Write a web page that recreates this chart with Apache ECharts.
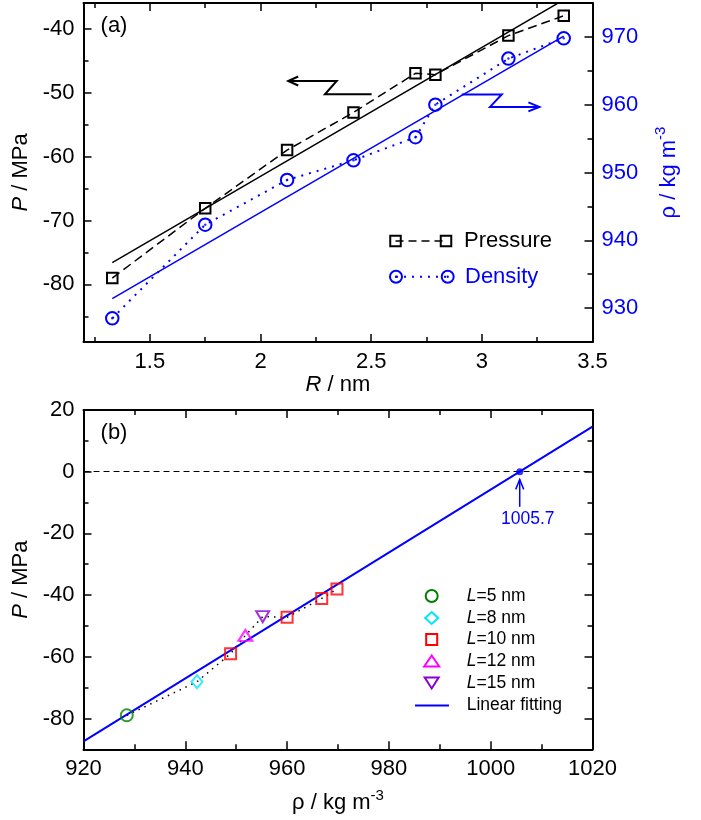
<!DOCTYPE html>
<html><head><meta charset="utf-8">
<script src="https://cdn.jsdelivr.net/npm/echarts@6/dist/echarts.min.js"></script>
<style>html,body{margin:0;padding:0;background:#fff}#c{width:701px;height:820px}</style>
</head><body><div id="c"></div>
<script>
// ---------------- data ----------------
const radius    = [1.33, 1.75, 2.12, 2.42, 2.70, 2.79, 3.12, 3.37];            // R / nm
const pressure  = [-79.0, -68.1, -59.0, -53.1, -47.0, -47.2, -41.1, -38.0];   // P / MPa
const density   = [928.5, 942.3, 948.9, 951.8, 955.2, 960.0, 966.8, 969.8];   // rho / kg m-3
const boxLength = [5, 8, 10, 12, 15, 10, 10, 10];                             // L / nm
const groups    = [5, 8, 10, 12, 15];

const fitRadiusA   = [1.33, 3.37];
const fitPressureA = [-76.6, -35.5];
const fitDensityA  = [931.4, 970.1];
const fitRhoB      = [920, 1020];
const fitPressureB = [-87.4, 14.6];
const interceptRho = 1005.7;

// tick values
const xTicksA   = [1.5, 2, 2.5, 3, 3.5];
const xMinorA   = [1.25, 1.75, 2.25, 2.75, 3.25];
const yTicksA   = [-80, -70, -60, -50, -40];
const yMinorA   = [-85, -75, -65, -55, -45];
const rhoTicksA = [930, 940, 950, 960, 970];
const rhoMinorA = [935, 945, 955, 965];
const xTicksB   = [920, 940, 960, 980, 1000, 1020];
const xMinorB   = [930, 950, 970, 990, 1010];
const yTicksB   = [-80, -60, -40, -20, 0, 20];
const yMinorB   = [-70, -50, -30, -10, 10];

// annotation arrows in data coordinates (tail ... tip)
const arrowP_R     = [2.502, 2.291, 2.344, 2.125];
const arrowP_P     = [-50.28, -50.28, -48.2, -48.2];
const arrowRho_R   = [2.909, 3.09, 3.037, 3.26];
const arrowRho_rho = [961.5, 961.5, 959.67, 959.67];
const arrowB_P     = [-11.4, -2.5];

// ---------------- styles ----------------
const FONT = 'Liberation Sans';
const BLUE = '#0000FF';
const groupStyle = {
  5:  {symbol: 'circle',   size: 12,       color: '#008000', rotate: 0},
  8:  {symbol: 'diamond',  size: [11, 13], color: '#00E5FF', rotate: 0},
  10: {symbol: 'rect',     size: 11,       color: '#FF0000', rotate: 0},
  12: {symbol: 'triangle', size: [14, 11], color: '#FF00FF', rotate: 0},
  15: {symbol: 'triangle', size: [13, 11], color: '#8A00D0', rotate: 180}
};
const pairs = (xs, ys) => xs.map((x, i) => [x, ys[i]]);

function ax(o) {
  const a = {
    type: 'value', gridIndex: o.grid, position: o.pos, min: o.min, max: o.max,
    axisLine: {show: !!o.line, onZero: false, lineStyle: {color: '#000', width: 2}},
    axisTick: {show: true, inside: true, length: o.minor ? 5 : 8, customValues: o.ticks,
               lineStyle: {color: '#000', width: 1.5}},
    axisLabel: o.labels ? {show: true, customValues: o.labels, margin: 9, fontSize: 22,
               fontFamily: FONT, color: o.labelColor || '#000', showMinLabel: true, showMaxLabel: true,
               formatter: v => String(v)}
               : {show: false},
    splitLine: {show: false}
  };
  if (o.name) {
    a.name = o.name; a.nameLocation = 'middle'; a.nameGap = o.nameGap;
    if (o.nameRotate !== undefined) a.nameRotate = o.nameRotate;
    a.nameTextStyle = Object.assign({fontSize: 22, fontFamily: FONT, color: o.nameColor || '#000'}, o.nameStyle || {});
  }
  return a;
}
const italicRich = {i: {fontStyle: 'italic', fontSize: 22, fontFamily: FONT}};

const xAxis = [
  ax({grid: 0, pos: 'bottom', min: 1.2, max: 3.5, line: true, ticks: [1.5, 2, 2.5, 3], labels: xTicksA,
      name: '{i|R} / nm', nameGap: 32, nameStyle: {rich: italicRich}}),
  ax({grid: 0, pos: 'bottom', min: 1.2, max: 3.5, minor: true, ticks: xMinorA}),
  ax({grid: 0, pos: 'top', min: 1.2, max: 3.5, line: true, ticks: [1.5, 2, 2.5, 3]}),
  ax({grid: 0, pos: 'top', min: 1.2, max: 3.5, minor: true, ticks: xMinorA}),
  ax({grid: 1, pos: 'bottom', min: 920, max: 1020, line: true, ticks: [940, 960, 980, 1000], labels: xTicksB,
      name: '{t|ρ / kg m}{s|-3}', nameGap: 39,
      nameStyle: {rich: {t: {fontSize: 22, fontFamily: FONT, lineHeight: 30},
                         s: {fontSize: 15, fontFamily: FONT, lineHeight: 16, verticalAlign: 'top'}}}}),
  ax({grid: 1, pos: 'bottom', min: 920, max: 1020, minor: true, ticks: xMinorB}),
  ax({grid: 1, pos: 'top', min: 920, max: 1020, line: true, ticks: [940, 960, 980, 1000]}),
  ax({grid: 1, pos: 'top', min: 920, max: 1020, minor: true, ticks: xMinorB})
];
const yAxis = [
  ax({grid: 0, pos: 'left', min: -89, max: -36, line: true, ticks: yTicksA, labels: yTicksA,
      name: '{i|P} / MPa', nameGap: 41, nameRotate: 90, nameStyle: {rich: italicRich}}),
  ax({grid: 0, pos: 'left', min: -89, max: -36, minor: true, ticks: yMinorA}),
  ax({grid: 0, pos: 'right', min: 925, max: 975, line: true, ticks: rhoTicksA, labels: rhoTicksA, labelColor: BLUE,
      name: '{t|ρ / kg m}{s|-3}', nameGap: 61, nameRotate: 90, nameColor: BLUE,
      nameStyle: {rich: {t: {fontSize: 22, fontFamily: FONT, lineHeight: 30, color: BLUE},
                         s: {fontSize: 15, fontFamily: FONT, lineHeight: 16, verticalAlign: 'top', color: BLUE}}}}),
  ax({grid: 0, pos: 'right', min: 925, max: 975, minor: true, ticks: rhoMinorA}),
  ax({grid: 1, pos: 'left', min: -90, max: 20, line: true, ticks: [-80, -60, -40, -20, 0], labels: yTicksB,
      name: '{i|P} / MPa', nameGap: 41, nameRotate: 90, nameStyle: {rich: italicRich}}),
  ax({grid: 1, pos: 'left', min: -90, max: 20, minor: true, ticks: yMinorB}),
  ax({grid: 1, pos: 'right', min: -90, max: 20, line: true, ticks: [-80, -60, -40, -20, 0]}),
  ax({grid: 1, pos: 'right', min: -90, max: 20, minor: true, ticks: yMinorB})
];

const series = [
  // ---- panel (a) ----
  {type: 'line', xAxisIndex: 0, yAxisIndex: 0, data: pairs(fitRadiusA, fitPressureA), symbol: 'none',
   lineStyle: {color: '#000', width: 1.5}, z: 2},
  {type: 'line', xAxisIndex: 0, yAxisIndex: 2, data: pairs(fitRadiusA, fitDensityA), symbol: 'none',
   lineStyle: {color: BLUE, width: 1.5}, z: 2},
  {type: 'line', name: 'Pressure', xAxisIndex: 0, yAxisIndex: 0, data: pairs(radius, pressure),
   symbol: 'rect', symbolSize: 10.5, lineStyle: {color: '#000', width: 1.5, type: [9, 5]},
   itemStyle: {color: 'transparent', borderColor: '#000', borderWidth: 2}, z: 3},
  {type: 'line', name: 'Density', xAxisIndex: 0, yAxisIndex: 2, data: pairs(radius, density),
   symbol: 'circle', symbolSize: 12.5, lineStyle: {color: BLUE, width: 2, type: [2, 6]},
   itemStyle: {color: 'transparent', borderColor: BLUE, borderWidth: 2}, z: 3},
  {type: 'scatter', xAxisIndex: 0, yAxisIndex: 2, data: pairs(radius, density), symbolSize: 2.5,
   itemStyle: {color: BLUE}, z: 4},
  // ---- panel (b) ----
  {type: 'line', xAxisIndex: 4, yAxisIndex: 4, data: pairs(density, pressure), symbol: 'none',
   lineStyle: {color: '#000', width: 1.5, type: [1.5, 5]}, z: 2},
  {type: 'line', name: 'Linear fitting', xAxisIndex: 4, yAxisIndex: 4, data: pairs(fitRhoB, fitPressureB),
   symbol: 'none', lineStyle: {color: BLUE, width: 2}, itemStyle: {color: BLUE}, z: 3,
   markLine: {silent: true, symbol: 'none', label: {show: false},
              lineStyle: {color: '#000', width: 1, type: [6, 4]}, data: [{yAxis: 0}]}},
  {type: 'scatter', xAxisIndex: 4, yAxisIndex: 4, data: [[interceptRho, 0]], symbolSize: 7,
   itemStyle: {color: BLUE}, z: 5}
];
groups.forEach(L => {
  const st = groupStyle[L];
  const idx = boxLength.map((v, i) => v === L ? i : -1).filter(i => i >= 0);
  series.push({
    type: 'scatter', name: 'L=' + L + ' nm', xAxisIndex: 4, yAxisIndex: 4,
    data: idx.map(i => [density[i], pressure[i]]),
    symbol: st.symbol, symbolSize: st.size, symbolRotate: st.rotate,
    itemStyle: {color: 'transparent', borderColor: st.color, borderWidth: 2}, z: 4
  });
});

const option = {
  animation: false,
  backgroundColor: '#fff',
  textStyle: {fontFamily: FONT},
  grid: [
    {left: 83.5, top: 3, width: 509, height: 339, outerBoundsMode: 'none'},
    {left: 83.5, top: 410, width: 509, height: 339.3, outerBoundsMode: 'none'}
  ],
  xAxis, yAxis, series
};

const chart = echarts.init(document.getElementById('c'));
chart.setOption(option);

// ---------------- annotations & legends ----------------
const toA = (x, y) => chart.convertToPixel({xAxisIndex: 0, yAxisIndex: 0}, [x, y]);
const toRho = (x, y) => chart.convertToPixel({xAxisIndex: 0, yAxisIndex: 2}, [x, y]);
const toB = (x, y) => chart.convertToPixel({xAxisIndex: 4, yAxisIndex: 4}, [x, y]);

const g = [];
function text(t, x, y, size, color, align, rich) {
  g.push({type: 'text', silent: true, style: {text: t, x, y, fontSize: size, fontFamily: FONT,
          fill: color || '#000', align: align || 'left', verticalAlign: 'middle', rich: rich}});
}
function poly(points, color, width, dash, closed) {
  g.push({type: closed ? 'polygon' : 'polyline', silent: true, shape: {points},
          style: {stroke: color, lineWidth: width, fill: 'none', lineDash: dash || null}});
}
// pressure arrow (pointing left)
const pa = arrowP_R.map((r, i) => toA(r, arrowP_P[i]));
poly(pa, '#000', 2);
const tp = pa[pa.length - 1];
poly([[tp[0] + 10, tp[1] - 4.5], tp, [tp[0] + 10, tp[1] + 4.5]], '#000', 2);
// density arrow (pointing right)
const ra = arrowRho_R.map((r, i) => toRho(r, arrowRho_rho[i]));
poly(ra, BLUE, 2);
const tr = ra[ra.length - 1];
poly([[tr[0] - 11, tr[1] - 4.5], tr, [tr[0] - 11, tr[1] + 4.5]], BLUE, 2);
// panel (b) intercept arrow
const ba = arrowB_P.map(p => toB(interceptRho, p));
poly(ba, BLUE, 1.5);
const tb = ba[1];
poly([[tb[0] - 4, tb[1] + 10], tb, [tb[0] + 4, tb[1] + 10]], BLUE, 1.5);
const dot = toB(interceptRho, 0);
text(String(interceptRho), dot[0] + 8, dot[1] + 47, 17.5, BLUE, 'center');
// panel labels
text('(a)', 114, 26, 22, '#000', 'center');
text('(b)', 114, 433, 22, '#000', 'center');

// panel (a) legend
const ly1 = 241, ly2 = 276.7;
poly([[395.5, ly1], [446, ly1]], '#000', 1.5, [8, 5]);
[395.5, 446].forEach(cx => g.push({type: 'rect', silent: true,
  shape: {x: cx - 5.25, y: ly1 - 5.25, width: 10.5, height: 10.5},
  style: {stroke: '#000', lineWidth: 2, fill: 'none'}}));
text('Pressure', 464, ly1, 22, '#000');
poly([[396, ly2], [447.7, ly2]], BLUE, 2, [2, 6]);
[396, 447.7].forEach(cx => {
  g.push({type: 'circle', silent: true, shape: {cx, cy: ly2, r: 6}, style: {stroke: BLUE, lineWidth: 2, fill: 'none'}});
  g.push({type: 'circle', silent: true, shape: {cx, cy: ly2, r: 1.2}, style: {fill: BLUE}});
});
text('Density', 465, ly2, 22, BLUE);

// panel (b) legend
const lx = 431.7, tx = 466.7;
const rows = [596, 618, 639.5, 661, 683, 705.5];
const rich = {i: {fontStyle: 'italic', fontSize: 17.5, fontFamily: FONT}};
groups.forEach((L, k) => {
  const y = rows[k], c = groupStyle[L].color, sym = groupStyle[L].symbol;
  if (sym === 'circle') {
    g.push({type: 'circle', silent: true, shape: {cx: lx, cy: y, r: 6}, style: {stroke: c, lineWidth: 2, fill: 'none'}});
  } else if (sym === 'diamond') {
    poly([[lx, y - 6], [lx + 6.5, y], [lx, y + 6], [lx - 6.5, y]], c, 2, null, true);
  } else if (sym === 'rect') {
    g.push({type: 'rect', silent: true, shape: {x: lx - 5.5, y: y - 5.5, width: 11, height: 11},
            style: {stroke: c, lineWidth: 2, fill: 'none'}});
  } else if (groupStyle[L].rotate === 180) {
    poly([[lx - 7, y - 5.5], [lx + 7, y - 5.5], [lx, y + 5.5]], c, 2, null, true);
  } else {
    poly([[lx, y - 5.5], [lx + 7.5, y + 5.5], [lx - 7.5, y + 5.5]], c, 2, null, true);
  }
  text('{i|L}=' + L + ' nm', tx, y, 17.5, '#000', 'left', rich);
});
poly([[415, rows[5]], [449, rows[5]]], BLUE, 2);
text('Linear fitting', tx, rows[5], 17.5, '#000', 'left');

chart.setOption({graphic: g});
</script>
</body></html>
